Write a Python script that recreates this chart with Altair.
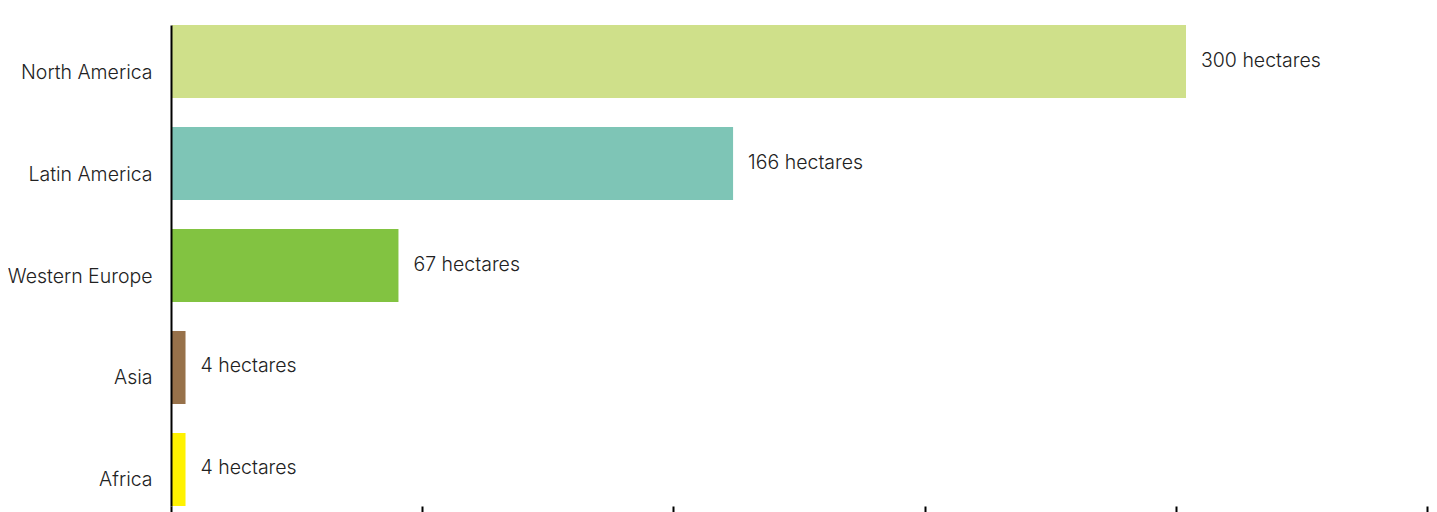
import altair as alt
import pandas as pd

regions = ["North America", "Latin America", "Western Europe", "Asia", "Africa"]
hectares = [300, 166, 67, 4, 4]
colors = ["#cfe08a", "#7ec5b6", "#82c341", "#97714a", "#fff200"]
x_max = 371.6
x_ticks = [0, 74.32, 148.64, 222.96, 297.28, 371.6]

df = pd.DataFrame({"region": regions, "hectares": hectares})

FONT = "Inter"
FS = 19.5

base = alt.Chart(df).encode(
    y=alt.Y(
        "region:N",
        sort=regions,
        title=None,
        scale=alt.Scale(range=[14, 495], paddingInner=0.284, paddingOuter=0),
        axis=alt.Axis(
            domain=True,
            domainColor="#000000",
            domainWidth=2,
            ticks=False,
            labelPadding=19,
            labelFont=FONT,
            labelFontSize=FS,
            labelColor="#222222",
            labelOffset=11,
            labelFontWeight=300,
            zindex=1,
        ),
    ),
    x=alt.X(
        "hectares:Q",
        title=None,
        scale=alt.Scale(domain=[0, x_max], nice=False, zero=True),
        axis=alt.Axis(
            values=x_ticks,
            labels=False,
            domain=False,
            grid=False,
            ticks=True,
            tickColor="#000000",
            tickWidth=2,
            tickSize=6,
        ),
    ),
)

bars = base.mark_bar(xOffset=1).encode(
    color=alt.Color("region:N", scale=alt.Scale(domain=regions, range=colors), legend=None)
)

labels = base.mark_text(
    align="left", baseline="middle", dx=16, dy=-1, font=FONT, fontSize=FS, color="#222222", fontWeight=300
).transform_calculate(label="datum.hectares + ' hectares'").encode(text="label:N")

chart = (
    alt.layer(bars, labels)
    .properties(
        width=1256,
        height=495,
        background="#ffffff",
        autosize=alt.AutoSizeParams(type="none"),
        padding={"left": 163, "top": 3, "right": 2, "bottom": 6},
    )
    .configure_view(strokeWidth=0, stroke="transparent")
)

chart.save("out.html", embed_options={"renderer": "svg", "actions": False})
